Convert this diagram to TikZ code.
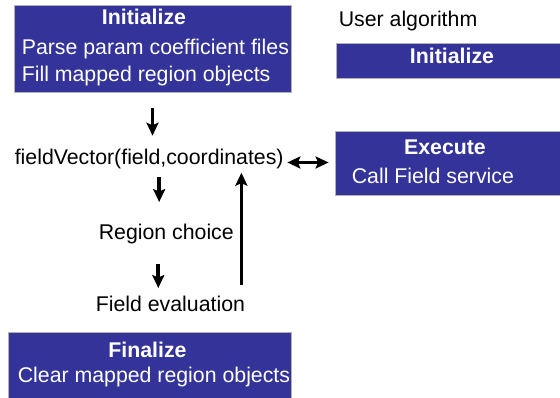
\documentclass[tikz,border=0pt]{standalone}
\usepackage{fontspec}
\setmainfont{Liberation Sans}
\usetikzlibrary{arrows.meta}
\definecolor{slideblue}{RGB}{51,51,153}

\begin{document}
\begin{tikzpicture}[x=1pt,y=-1pt,>={Stealth[length=13pt,width=12pt,inset=2.5pt]},
	line width=3.6pt,
	box/.style={draw=gray!60,line width=0.8pt,fill=slideblue,inner sep=0pt},
	title node/.style={font=\fontsize{21.3}{25}\selectfont\bfseries,text=white,inner sep=0pt,anchor=base},
	line node/.style={font=\fontsize{21.3}{25}\selectfont,inner sep=0pt,anchor=base west}]
\useasboundingbox (0,0) rectangle (560,398);
% boxes on the left
\node[box,minimum width=277pt,minimum height=87pt] (init) at (152.5,48.5) {};
\node[title node] (initT) at (144,25) {Initialize};
\node[line node,text=white] (initA) at (20,55) {Parse param coefficient files};
\node[line node,text=white] (initB) at (20,82) {Fill mapped region objects};
\node[box,minimum width=283pt,minimum height=66pt] (fin) at (149.5,365) {};
\node[title node] (finT) at (147.5,357) {Finalize};
\node[line node,text=white] (finA) at (16,382) {Clear mapped region objects};
% user side
\node[line node] (user) at (337,27) {User algorithm};
\node[box,minimum width=226pt,minimum height=35pt] (uinit) at (449,60.5) {};
\node[title node] (uinitT) at (452,64) {Initialize};
\node[box,minimum width=227pt,minimum height=64pt] (exec) at (448.5,163) {};
\node[title node] (execT) at (445,155) {Execute};
\node[line node,text=white] (execA) at (350,184) {Call Field service};
% field loop
\node[line node] (fv) at (13,165) {fieldVector(field,coordinates)};
\node[line node] (rc) at (97,240) {Region choice};
\node[line node] (fe) at (94,312) {Field evaluation};

\draw[->,shorten <=16pt,shorten >=12pt] (init.south) -- (init.south |- fv.north);
\draw[->,shorten <=6pt,shorten >=20.7pt] ([xshift=10pt]fv.south) -- ([xshift=10pt]fv.south |- rc.north);
\draw[->,shorten <=18pt,shorten >=6.7pt] ([xshift=-8pt]rc.south) -- ([xshift=-8pt]rc.south |- fe.north);
\draw[->,shorten <=9.7pt,shorten >=1.5pt] ([xshift=71pt]fe.north) -- ([xshift=71pt]fe.north |- fv.south);
\draw[<->,shorten <=2pt,shorten >=6pt] ([yshift=-3pt]fv.east) -- ([yshift=-3pt]fv.east -| exec.west);
\end{tikzpicture}
\end{document}
